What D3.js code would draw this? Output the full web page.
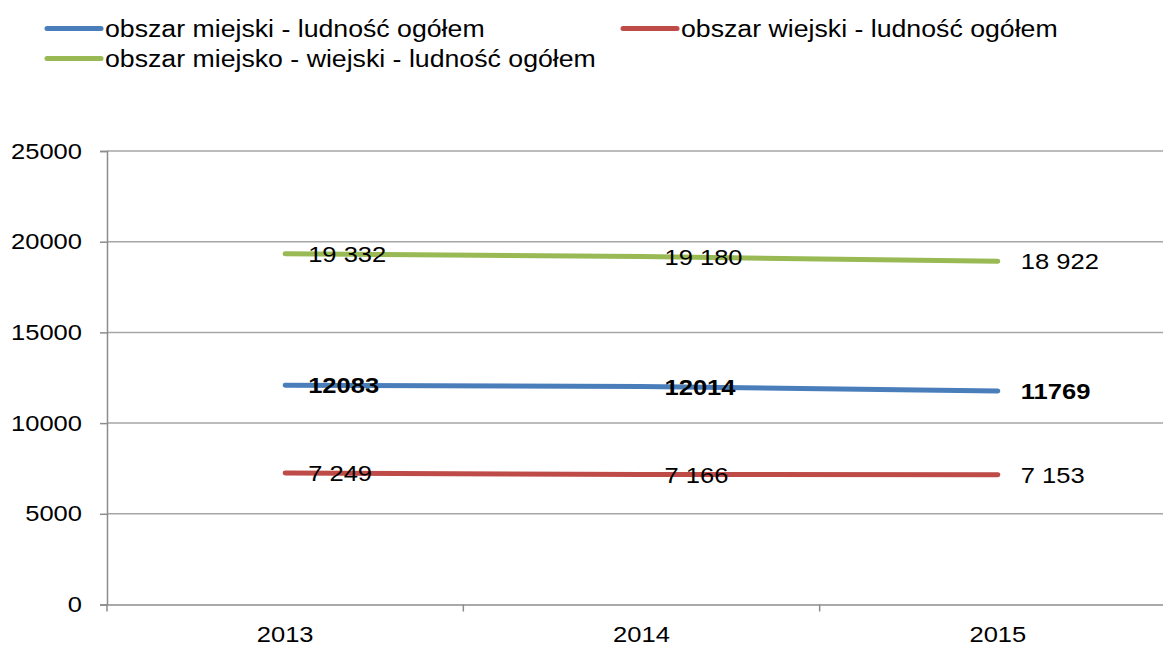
<!DOCTYPE html>
<html>
<head>
<meta charset="utf-8">
<script src="https://cdn.jsdelivr.net/npm/d3@7"></script>
<style>
  body { margin: 0; background: #fff; }
  svg { display: block; font-family: Arial, "Liberation Sans", sans-serif; }
</style>
</head>
<body>
<svg id="chart" width="1163" height="646"></svg>
<script>
// Data
const years = ["2013", "2014", "2015"];
const miejski = [12083, 12014, 11769];
const wiejski = [7249, 7166, 7153];
const miejskoWiejski = [19332, 19180, 18922];
const yTicks = [0, 5000, 10000, 15000, 20000, 25000];

const spaced = d => d3.format(",")(d).replace(/,/g, " ");

const series = [
    { name: "obszar miejski - ludność ogółem", values: miejski, color: "#4a7ebb", bold: true, fmt: d => String(d) },
    { name: "obszar wiejski - ludność ogółem", values: wiejski, color: "#be4b48", bold: false, fmt: spaced },
    { name: "obszar miejsko - wiejski - ludność ogółem", values: miejskoWiejski, color: "#98b954", bold: false, fmt: spaced }
];

const svg = d3.select("#chart");
const fontSize = 22;
// the original picture is a bit wider than tall, so text is stretched sideways
const stretch = 1.16;

// Plot area (right edge runs past the window, as in the original)
const plot = { left: 107, right: 1176, top: 151, bottom: 604.5 };

const x = d3.scaleBand().domain(years).range([plot.left, plot.right]);
const y = d3.scaleLinear().domain([0, 25000]).range([plot.bottom, plot.top]);

// Gridlines
svg.append("g")
    .selectAll("line")
    .data(yTicks.filter(d => d > 0))
    .join("line")
    .attr("x1", plot.left)
    .attr("x2", plot.right)
    .attr("y1", d => y(d))
    .attr("y2", d => y(d))
    .attr("stroke", "#a6a6a6")
    .attr("stroke-width", 1.5);

// Y axis
const yAxis = svg.append("g")
    .attr("transform", `translate(${plot.left},0)`)
    .call(d3.axisLeft(y).tickValues(yTicks).tickSize(7).tickPadding(18).tickFormat(d => d));
yAxis.select(".domain").attr("stroke", "#8c8c8c").attr("stroke-width", 1.5);
yAxis.selectAll(".tick line").attr("stroke", "#8c8c8c").attr("stroke-width", 1.5);
yAxis.selectAll("text").attr("font-size", fontSize).attr("fill", "#000").attr("font-family", "Arial, 'Liberation Sans', sans-serif");

// X axis
const xAxis = svg.append("g")
    .attr("transform", `translate(0,${plot.bottom})`)
    .call(d3.axisBottom(x).tickSize(0).tickPadding(22));
xAxis.select(".domain").attr("stroke", "#8c8c8c").attr("stroke-width", 1.5);
xAxis.selectAll("text").attr("font-size", fontSize).attr("fill", "#000").attr("font-family", "Arial, 'Liberation Sans', sans-serif");

// category separator ticks
const bounds = years.map(d => x(d)).concat([x(years[years.length - 1]) + x.bandwidth()]);
svg.append("g")
    .selectAll("line")
    .data(bounds)
    .join("line")
    .attr("x1", d => d)
    .attr("x2", d => d)
    .attr("y1", plot.bottom)
    .attr("y2", plot.bottom + 7)
    .attr("stroke", "#8c8c8c")
    .attr("stroke-width", 1.5);

const cx = d => x(d) + x.bandwidth() / 2;

// Lines
const line = d3.line()
    .x((d, i) => cx(years[i]))
    .y(d => y(d));

series.forEach(s => {
    svg.append("path")
        .datum(s.values)
        .attr("fill", "none")
        .attr("stroke", s.color)
        .attr("stroke-width", 5)
        .attr("stroke-linecap", "round")
        .attr("d", line);
});

// Data labels
series.forEach(s => {
    svg.append("g")
        .selectAll("text")
        .data(s.values)
        .join("text")
        .attr("x", (d, i) => cx(years[i]) + 23)
        .attr("y", d => y(d) + 8)
        .attr("font-size", fontSize)
        .attr("font-weight", s.bold ? "bold" : "normal")
        .attr("fill", "#000")
        .text(s.fmt);
});

// Legend
const legendItems = [
    { s: series[0], x: 47, y: 28.5 },
    { s: series[1], x: 623, y: 28.5 },
    { s: series[2], x: 47, y: 58.5 }
];
const legend = svg.append("g");
legendItems.forEach(it => {
    legend.append("line")
        .attr("x1", it.x)
        .attr("x2", it.x + 54)
        .attr("y1", it.y)
        .attr("y2", it.y)
        .attr("stroke", it.s.color)
        .attr("stroke-width", 5)
        .attr("stroke-linecap", "round");
    legend.append("text")
        .attr("x", it.x + 58)
        .attr("y", it.y + 8)
        .attr("font-size", 23)
        .attr("fill", "#000")
        .text(it.s.name);
});

// Stretch every text sideways to match the original proportions
svg.selectAll("text").each(function () {
    const w = this.getComputedTextLength();
    d3.select(this)
        .attr("textLength", w * stretch)
        .attr("lengthAdjust", "spacingAndGlyphs");
});
</script>
</body>
</html>
